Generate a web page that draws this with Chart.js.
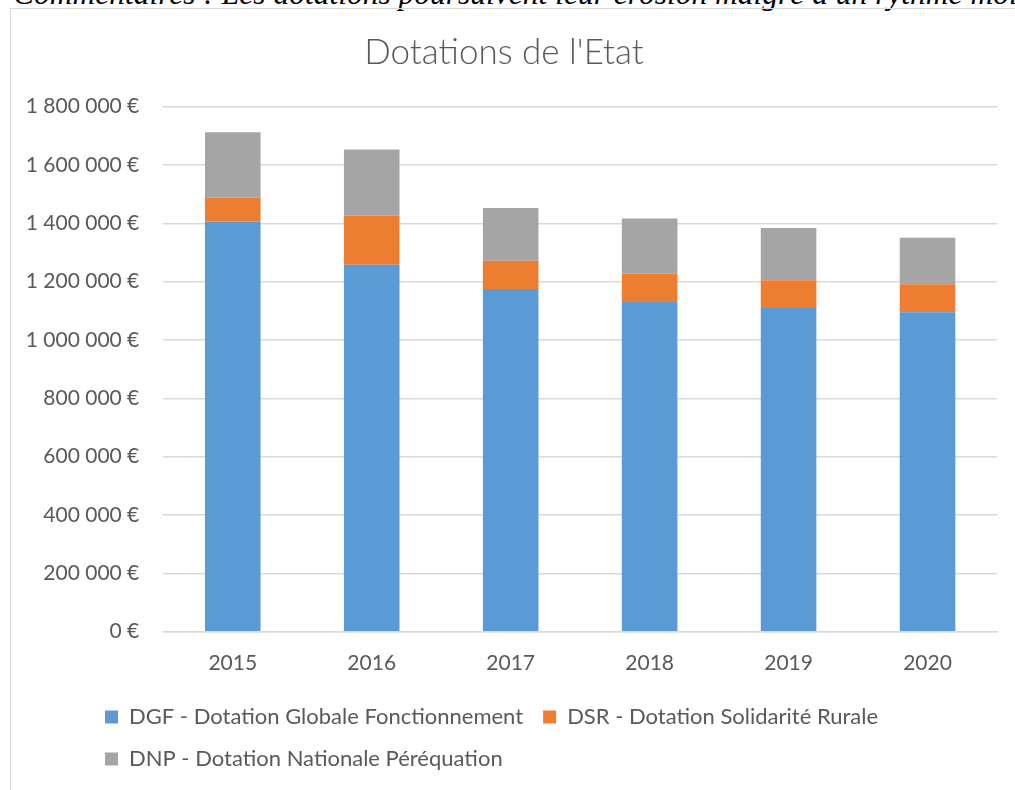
<!DOCTYPE html>
<html>
<head>
<meta charset="utf-8">
<script src="https://cdn.jsdelivr.net/npm/chart.js@4"></script>
<style>
  body { margin: 0; background: #fff; overflow: hidden; }
  #comment {
    position: absolute; left: 13px; top: -22px;
    font-family: "Liberation Serif", serif; font-style: italic;
    font-size: 31.5px; line-height: 31.5px; white-space: nowrap; color: #000;
  }
  #frame {
    position: absolute; left: 10px; top: 8px; width: 1010px; height: 790px;
    border-left: 1px solid #d9d9d9; border-top: 1px solid #d9d9d9;
  }
  canvas { display: block; }
</style>
</head>
<body>
<div id="comment">Commentaires : Les dotations poursuivent leur érosion malgré à un rythme moins soutenu</div>
<div id="frame"><canvas id="chart" width="1004" height="781"></canvas></div>
<script>
// Dotations de l'Etat
const years = ["2015", "2016", "2017", "2018", "2019", "2020"];
const seriesNames = [
  "DGF - Dotation Globale Fonctionnement",
  "DSR - Dotation Solidarité Rurale",
  "DNP - Dotation Nationale Péréquation"
];
const dgfValues = [1406000, 1258000, 1175000, 1130000, 1110000, 1095000];
const dsrValues = [83000, 169000, 97000, 98000, 95000, 96000];
const dnpValues = [223000, 226000, 181000, 189000, 179000, 160000];
const yMin = 0;
const yMax = 1800000;
const yStep = 200000;

const textColor = "#595959";
const gridColor = "#d9d9d9";
const tickFont = { family: "Lato", size: 21 };

function euro(v) {
  return String(v).replace(/\B(?=(\d{3})+(?!\d))/g, " ") + " €";
}

// put the legend rows where Excel had them (left aligned block)
const legendShift = {
  id: "legendShift",
  afterLayout(chart) {
    const lg = chart.legend;
    if (!lg) return;
    lg.left = 74;
    lg.right = 74 + 850;
  }
};

new Chart(document.getElementById("chart").getContext("2d"), {
  type: "bar",
  data: {
    labels: years,
    datasets: [
      { label: seriesNames[0], data: dgfValues, backgroundColor: "#5b9bd5" },
      { label: seriesNames[1], data: dsrValues, backgroundColor: "#ed7d31" },
      { label: seriesNames[2], data: dnpValues, backgroundColor: "#a5a5a5" }
    ]
  },
  options: {
    responsive: false,
    animation: false,
    categoryPercentage: 0.4,
    barPercentage: 1,
    layout: { padding: { left: 0, right: 18, top: 0, bottom: 10 } },
    plugins: {
      title: {
        display: true,
        text: "Dotations de l'Etat",
        color: textColor,
        font: { family: "Lato", size: 35, weight: "300" },
        padding: { top: 22.5, bottom: 33.2 }
      },
      legend: {
        position: "bottom",
        align: "start",
        fullSize: false,
        labels: {
          color: textColor,
          font: { family: "Lato", size: 22 },
          boxWidth: 13,
          boxHeight: 13,
          padding: 20
        }
      },
      tooltip: { enabled: false }
    },
    scales: {
      x: {
        stacked: true,
        grid: { display: false, drawTicks: false },
        border: { color: gridColor, width: 1.6 },
        ticks: { color: textColor, font: tickFont, padding: 18.7 },
        afterFit(s) { s.height = 54.3; }
      },
      y: {
        stacked: true,
        min: yMin,
        max: yMax,
        grid: { color: gridColor, lineWidth: 1.6, drawTicks: false },
        border: { display: false },
        ticks: {
          stepSize: yStep,
          color: textColor,
          font: tickFont,
          padding: 24,
          callback: (v) => euro(v)
        },
        afterFit(s) { s.width = 152.3; }
      }
    }
  },
  plugins: [legendShift]
});
</script>
</body>
</html>
